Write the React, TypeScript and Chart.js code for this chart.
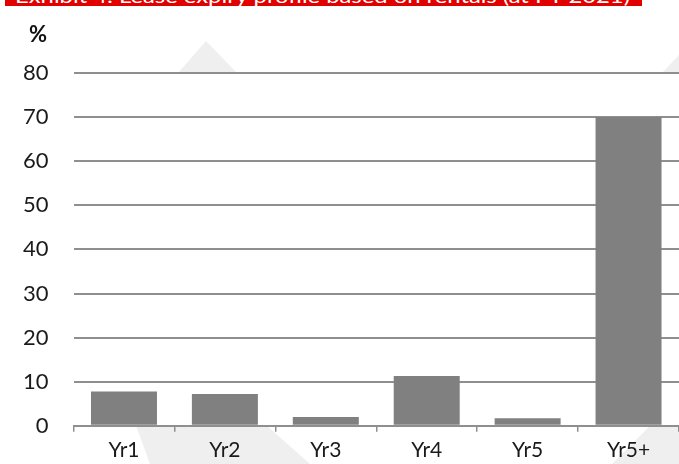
import React, { useEffect, useRef } from "react";
import { Chart, registerables } from "chart.js";

Chart.register(...registerables);

const categories = ["Yr1", "Yr2", "Yr3", "Yr4", "Yr5", "Yr5+"];
const expiryShare = [7.8, 7.2, 2.0, 11.3, 1.7, 70];
const yTicks = [0, 10, 20, 30, 40, 50, 60, 70, 80];
const titleText = "Exhibit 4: Lease expiry profile based on rentals (at FY 2021)";
const unitLabel = "%";

const FONT = "Lato, 'Open Sans', sans-serif";

// decorative background watermark (light grey), not data
const watermarkPlugin = {
  id: "watermark",
  beforeDraw(chart: any) {
    const { ctx, chartArea } = chart;
    const t = chartArea.top;
    const b = chartArea.bottom;
    const W = chart.width;
    const H = chart.height;
    const polys: number[][][] = [
      [[178, t], [206, 41], [237, t]],
      [[662, t], [W, 55], [W, t]],
      [[136, b], [267, b], [310, H], [150, H]],
      [[650, b], [W, b], [W, H], [612, H]],
    ];
    ctx.save();
    ctx.fillStyle = "#efefef";
    for (const p of polys) {
      ctx.beginPath();
      ctx.moveTo(p[0][0], p[0][1]);
      for (let i = 1; i < p.length; i++) ctx.lineTo(p[i][0], p[i][1]);
      ctx.closePath();
      ctx.fill();
    }
    ctx.restore();
  },
};

export default function App() {
  const canvasRef = useRef<HTMLCanvasElement | null>(null);

  useEffect(() => {
    document.body.style.margin = "0";
    const ctx = canvasRef.current!.getContext("2d")!;
    const chart = new Chart(ctx, {
      type: "bar",
      data: {
        labels: categories,
        datasets: [
          {
            data: expiryShare,
            backgroundColor: "#808080",
            borderWidth: 0,
            barPercentage: 0.654,
            categoryPercentage: 1,
          },
        ],
      },
      plugins: [watermarkPlugin],
      options: {
        animation: false,
        responsive: false,
        maintainAspectRatio: false,
        layout: { padding: { top: 73, left: -2, right: 0, bottom: -5 } },
        plugins: {
          legend: { display: false },
          tooltip: { enabled: false },
          title: { display: false },
        },
        scales: {
          x: {
            grid: {
              display: true,
              drawOnChartArea: false,
              drawTicks: true,
              tickLength: 6,
              color: "#8f8f8f",
              lineWidth: 1.5,
            },
            border: { display: true, color: "#8f8f8f", width: 2 },
            ticks: {
              color: "#1a1a1a",
              padding: 8,
              font: { family: FONT, size: 21, lineHeight: 1.0 },
            },
          },
          y: {
            min: 0,
            max: 80,
            afterBuildTicks: (axis: any) => {
              axis.ticks = yTicks.map((v) => ({ value: v }));
            },
            grid: {
              color: "#8f8f8f",
              lineWidth: 2,
              drawTicks: false,
            },
            border: { display: false },
            ticks: {
              color: "#1a1a1a",
              padding: 25,
              font: { family: FONT, size: 22 },
            },
          },
        },
      },
    });
    return () => chart.destroy();
  }, []);

  return (
    <div style={{ position: "relative", width: 679, height: 464, overflow: "hidden", background: "#fff" }}>
      <canvas ref={canvasRef} width={679} height={464} style={{ position: "absolute", left: 0, top: 0 }} />
      <div
        style={{
          position: "absolute",
          left: 5,
          top: 0,
          width: 637,
          height: 6,
          overflow: "hidden",
          background: "#e00000",
        }}
      >
        <svg width={637} height={6} style={{ display: "block" }}>
          <text
            x={10}
            y={2.5}
            fill="#ffffff"
            fontFamily={FONT}
            fontSize={20}
            textLength={615}
            lengthAdjust="spacingAndGlyphs"
          >
            {titleText}
          </text>
        </svg>
      </div>
      <div
        style={{
          position: "absolute",
          left: 29,
          top: 21,
          fontFamily: FONT,
          fontSize: 22,
          fontWeight: 700,
          color: "#111",
          lineHeight: "26px",
        }}
      >
        {unitLabel}
      </div>
    </div>
  );
}
